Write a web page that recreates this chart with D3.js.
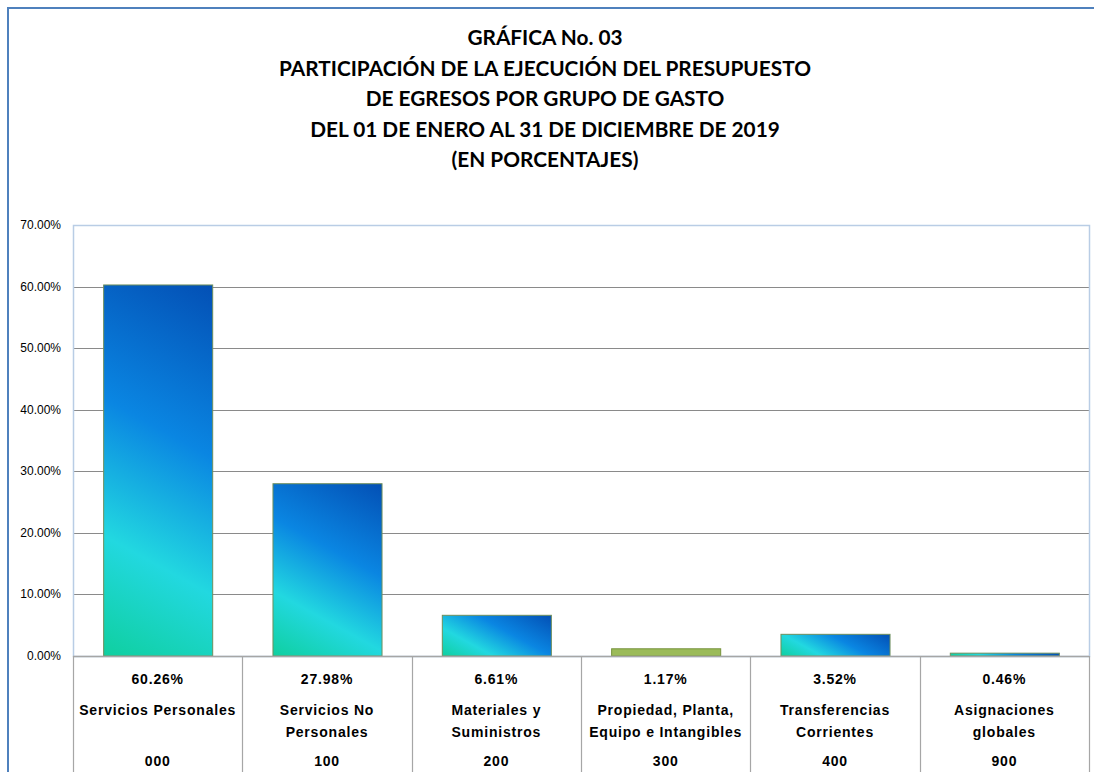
<!DOCTYPE html>
<html>
<head>
<meta charset="utf-8">
<script src="https://cdn.jsdelivr.net/npm/d3@7"></script>
<style>
  body { margin: 0; background: #fff; }
  svg { display: block; }
  .title { font-family: Lato, "Open Sans", sans-serif; font-weight: bold; font-size: 20.8px; fill: #000; }
  .tick-label { font-family: "Liberation Sans", Arial, sans-serif; font-size: 12px; fill: #000; }
  .table-text { font-family: "Liberation Sans", Arial, sans-serif; font-weight: bold; font-size: 14px; letter-spacing: 0.8px; fill: #000; }
</style>
</head>
<body>
<div id="wrapper"></div>
<script>
// 1. Data
const titleLines = [
  "GRÁFICA No. 03",
  "PARTICIPACIÓN DE LA EJECUCIÓN DEL PRESUPUESTO",
  "DE EGRESOS POR GRUPO DE GASTO",
  "DEL 01 DE ENERO AL 31 DE DICIEMBRE DE 2019",
  "(EN PORCENTAJES)",
]
const categories = [
  ["Servicios Personales"],
  ["Servicios No", "Personales"],
  ["Materiales y", "Suministros"],
  ["Propiedad, Planta,", "Equipo e Intangibles"],
  ["Transferencias", "Corrientes"],
  ["Asignaciones", "globales"],
]
const codes = ["000", "100", "200", "300", "400", "900"]
const values = [0.6026, 0.2798, 0.0661, 0.0117, 0.0352, 0.0046]
const yTicks = [0, 0.1, 0.2, 0.3, 0.4, 0.5, 0.6, 0.7]

const data = values.map((v, i) => ({ value: v, lines: categories[i], code: codes[i], i }))

// 2. Dimensions
const dimensions = {
  width: 1094,
  height: 772,
  plotLeft: 73,
  plotRight: 1089,
  plotTop: 225,
  plotBottom: 656,
}

const wrapper = d3.select("#wrapper")
  .append("svg")
    .attr("width", dimensions.width)
    .attr("height", dimensions.height)

const defs = wrapper.append("defs")

// outer frame
wrapper.append("rect")
    .attr("x", 8).attr("y", 8)
    .attr("width", 1200).attr("height", 900)
    .attr("fill", "none")
    .attr("stroke", "#4f81bd")
    .attr("stroke-width", 2)

// title
wrapper.append("g").selectAll("text")
  .data(titleLines)
  .join("text")
    .attr("class", "title")
    .attr("x", 545)
    .attr("y", (d, i) => 45 + i * 30.6)
    .attr("text-anchor", "middle")
    .text(d => d)

// 3. Scales
const xScale = d3.scaleBand()
  .domain(d3.range(values.length))
  .range([dimensions.plotLeft, dimensions.plotRight])
  .paddingInner(0.356)
  .paddingOuter(0.178)

const cellScale = d3.scaleBand()
  .domain(d3.range(values.length))
  .range([dimensions.plotLeft, dimensions.plotRight])

const yScale = d3.scaleLinear()
  .domain([0, 0.7])
  .range([dimensions.plotBottom, dimensions.plotTop])

// gradient per bar, fixed angle, stretched from bottom-left to top-right corner
const gradStops = [
  [0, "#0fcf9f"],
  [0.28, "#22d8e0"],
  [0.6, "#0a86e2"],
  [1, "#0350b5"],
]
const gradDir = [0.55 / Math.hypot(0.55, 1), -1 / Math.hypot(0.55, 1)]
defs.selectAll("linearGradient")
  .data(data)
  .join("linearGradient")
    .attr("id", d => `bar-gradient-${d.i}`)
    .attr("gradientUnits", "userSpaceOnUse")
    .each(function(d) {
      const x0 = xScale(d.i)
      const y0 = yScale(0)
      const w = xScale.bandwidth()
      const h = yScale(0) - yScale(d.value)
      const len = w * gradDir[0] - h * gradDir[1]
      d3.select(this)
        .attr("x1", x0).attr("y1", y0)
        .attr("x2", x0 + gradDir[0] * len)
        .attr("y2", y0 + gradDir[1] * len)
    })
  .selectAll("stop")
  .data(gradStops)
  .join("stop")
    .attr("offset", d => d[0])
    .attr("stop-color", d => d[1])

// 4. Peripherals
const grid = wrapper.append("g")
grid.selectAll("line")
  .data(yTicks.filter(d => d > 0 && d < 0.7))
  .join("line")
    .attr("x1", dimensions.plotLeft)
    .attr("x2", dimensions.plotRight)
    .attr("y1", d => Math.round(yScale(d)) + 0.5)
    .attr("y2", d => Math.round(yScale(d)) + 0.5)
    .attr("stroke", "#8a8a8a")

// plot area border
wrapper.append("rect")
    .attr("x", dimensions.plotLeft + 0.5)
    .attr("y", dimensions.plotTop + 0.5)
    .attr("width", dimensions.plotRight - dimensions.plotLeft)
    .attr("height", dimensions.plotBottom - dimensions.plotTop)
    .attr("fill", "none")
    .attr("stroke", "#b9cde5")
    .attr("stroke-width", 1.5)

const yFormat = d3.format(".2%")
wrapper.append("g").selectAll("text")
  .data(yTicks)
  .join("text")
    .attr("class", "tick-label")
    .attr("x", 61)
    .attr("y", d => yScale(d) + 4)
    .attr("text-anchor", "end")
    .text(d => yFormat(d))

// 5. Bars
wrapper.append("g").selectAll("rect")
  .data(data)
  .join("rect")
    .attr("x", d => xScale(d.i) + 0.5)
    .attr("y", d => yScale(d.value))
    .attr("width", xScale.bandwidth())
    .attr("height", d => yScale(0) - yScale(d.value))
    .attr("fill", d => d.code === "300" ? "#9bbb59" : `url(#bar-gradient-${d.i})`)
    .attr("stroke", d => d.code === "300" ? "#76923c" : "#6f8f5c")
    .attr("stroke-width", 1)

// axis line
wrapper.append("line")
    .attr("x1", dimensions.plotLeft)
    .attr("x2", dimensions.plotRight)
    .attr("y1", dimensions.plotBottom + 0.5)
    .attr("y2", dimensions.plotBottom + 0.5)
    .attr("stroke", "#a6a6a6")
    .attr("stroke-width", 1.5)

// 6. Data table
const table = wrapper.append("g")
table.selectAll("line")
  .data(d3.range(values.length + 1))
  .join("line")
    .attr("x1", i => Math.round(dimensions.plotLeft + i * cellScale.step()) + 0.5)
    .attr("x2", i => Math.round(dimensions.plotLeft + i * cellScale.step()) + 0.5)
    .attr("y1", dimensions.plotBottom)
    .attr("y2", dimensions.height)
    .attr("stroke", "#a6a6a6")
    .attr("stroke-width", 1.2)

const cells = table.selectAll(".cell")
  .data(data)
  .join("g")
    .attr("class", "cell")
    .attr("transform", d => `translate(${cellScale(d.i) + cellScale.bandwidth() / 2},0)`)

cells.append("text")
    .attr("class", "table-text")
    .attr("text-anchor", "middle")
    .attr("y", 684)
    .text(d => yFormat(d.value))

cells.append("text")
    .attr("class", "table-text")
    .attr("text-anchor", "middle")
    .selectAll("tspan")
    .data(d => d.lines)
    .join("tspan")
      .attr("x", 0)
      .attr("y", (d, i) => 715 + i * 22)
      .text(d => d)

cells.append("text")
    .attr("class", "table-text")
    .attr("text-anchor", "middle")
    .attr("y", 766)
    .text(d => d.code)
</script>
</body>
</html>
